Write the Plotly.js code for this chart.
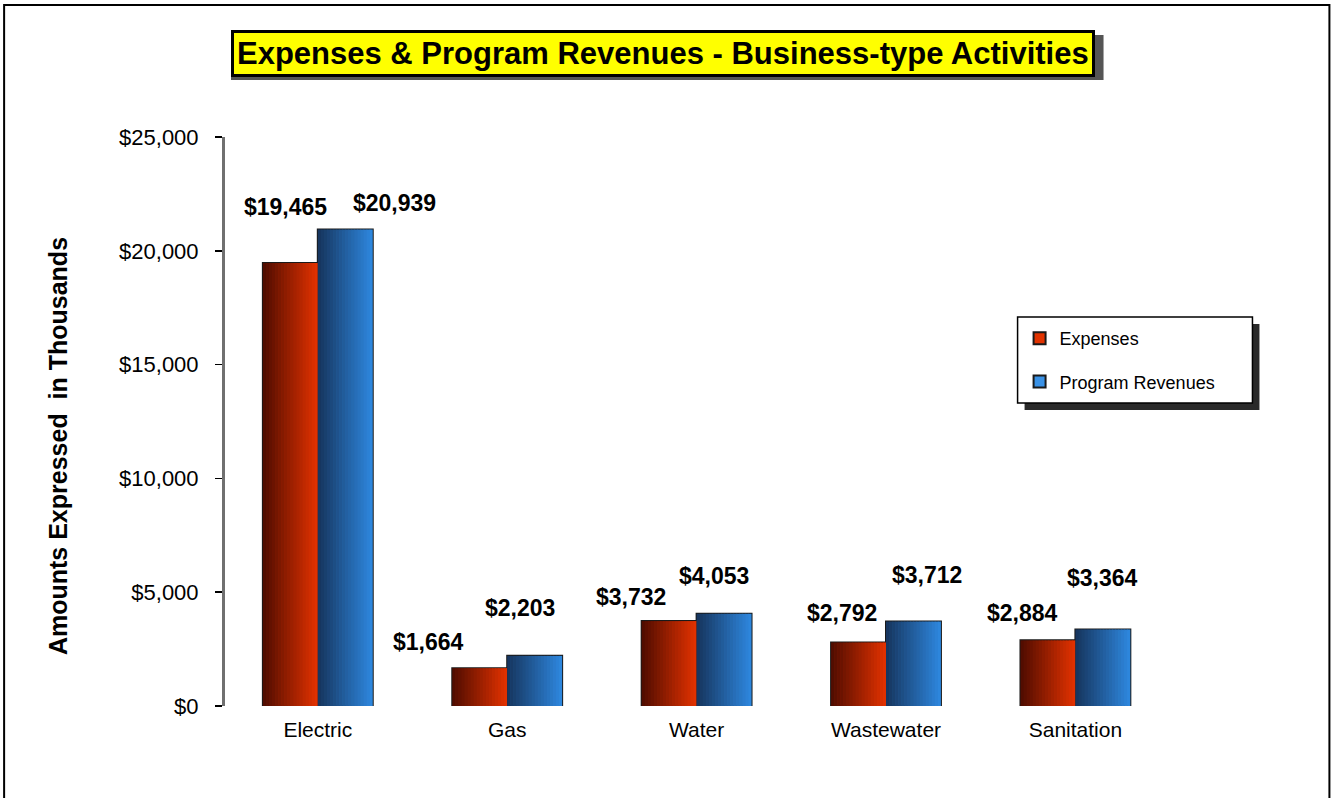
<!DOCTYPE html>
<html>
<head>
<meta charset="utf-8">
<script src="https://cdn.plot.ly/plotly-3.0.1.min.js"></script>
<style>
  html, body { margin: 0; padding: 0; background: #fff; }
  #chart { width: 1331px; height: 798px; }
</style>
</head>
<body>
<div id="chart"></div>
<script>
var categories = ['Electric', 'Gas', 'Water', 'Wastewater', 'Sanitation'];
var expenses = [19465, 1664, 3732, 2792, 2884];
var revenues = [20939, 2203, 4053, 3712, 3364];
var yTicks = [0, 5000, 10000, 15000, 20000, 25000];

// hand-placed label nudges (px), like the original sheet
var expShiftX = [-5, -51, -38, -17, -25];
var expShiftY = [56, 26, 24, 29, 27];
var revShiftX = [49, -15, -10, 14, 0];
var revShiftY = [26, 48, 38, 47, 51];

var W = 1331, H = 798;
var M = { l: 225, r: 158.5, t: 137, b: 92 };
var PW = W - M.l - M.r, PH = H - M.t - M.b;
function px(x) { return (x - M.l) / PW; }
function py(y) { return (H - M.b - y) / PH; }

var BW = 0.29;   // one bar, in category units
var N = 18;      // slices used to fake the horizontal gradient
var FONT = 'Liberation Sans, Arial, sans-serif';

function mix(a, b, t) {
  var c = [0, 1, 2].map(function (i) { return Math.round(a[i] + (b[i] - a[i]) * t); });
  return 'rgb(' + c.join(',') + ')';
}

var series = [
  { name: 'Expenses', y: expenses, off: -BW, dark: [78, 12, 0], light: [228, 50, 0], legend: '#e23300' },
  { name: 'Program Revenues', y: revenues, off: 0, dark: [22, 52, 92], light: [46, 136, 224], legend: '#3a92e6' }
];

var traces = [];
series.forEach(function (s) {
  traces.push({
    type: 'bar', name: s.name, x: categories, y: s.y,
    offset: s.off, width: BW, legendgroup: s.name,
    marker: { color: s.legend, line: { color: '#1a1a1a', width: 2 } },
    hoverinfo: 'skip'
  });
});
series.forEach(function (s) {
  for (var k = 0; k < N; k++) {
    traces.push({
      type: 'bar', x: categories, y: s.y, showlegend: false,
      offset: s.off + k * BW / N,
      width: BW / N + (k < N - 1 ? 0.003 : 0),
      marker: { color: mix(s.dark, s.light, (k + 0.5) / N), line: { width: 0 } },
      hoverinfo: 'skip'
    });
  }
});

var annotations = [];
// title box
annotations.push({
  xref: 'paper', yref: 'paper', x: px(663), y: py(53.5), xanchor: 'center', yanchor: 'middle',
  text: '<b>Expenses &amp; Program Revenues - Business-type Activities</b>', showarrow: false,
  font: { family: FONT, size: 31, color: '#000' },
  bgcolor: '#ffff00', bordercolor: '#000', borderwidth: 3, borderpad: 3
});
// y title
annotations.push({
  xref: 'paper', yref: 'paper', x: px(58), y: py(446), xanchor: 'center', yanchor: 'middle',
  text: '<b>Amounts Expressed  in Thousands</b>', textangle: -90, showarrow: false,
  font: { family: FONT, size: 25, color: '#000' }
});
// value labels
function money(v) { return '$' + v.toLocaleString('en-US'); }
categories.forEach(function (c, i) {
  annotations.push({
    x: i - BW / 2, y: expenses[i], xshift: expShiftX[i], yshift: expShiftY[i],
    text: '<b>' + money(expenses[i]) + '</b>', showarrow: false, yanchor: 'middle',
    font: { family: FONT, size: 23, color: '#000' }
  });
  annotations.push({
    x: i + BW / 2, y: revenues[i], xshift: revShiftX[i], yshift: revShiftY[i],
    text: '<b>' + money(revenues[i]) + '</b>', showarrow: false, yanchor: 'middle',
    font: { family: FONT, size: 23, color: '#000' }
  });
});

var shapes = [
  // outer frame
  { type: 'rect', xref: 'paper', yref: 'paper', x0: px(4), x1: px(1330), y0: py(806), y1: py(5),
    line: { color: '#000', width: 2 }, layer: 'below' },
  // title shadow
  { type: 'rect', xref: 'paper', yref: 'paper', x0: px(231), x1: px(1104), y0: py(80), y1: py(35),
    fillcolor: '#555', line: { width: 0 }, layer: 'below' },
  // legend shadow + box
  { type: 'rect', xref: 'paper', yref: 'paper', x0: px(1025), x1: px(1260), y0: py(410), y1: py(324),
    fillcolor: '#2a2a2a', line: { width: 0 }, layer: 'above' },
  { type: 'rect', xref: 'paper', yref: 'paper', x0: px(1018), x1: px(1253), y0: py(403), y1: py(317),
    fillcolor: '#fff', line: { color: '#000', width: 1.5 }, layer: 'above' }
];

var layout = {
  width: W, height: H,
  margin: M,
  paper_bgcolor: '#fff', plot_bgcolor: '#fff',
  barmode: 'overlay',
  hovermode: false,
  font: { family: FONT, color: '#000' },
  xaxis: {
    type: 'category', range: [-0.49, 4.51],
    showline: false, ticks: '', showgrid: false, zeroline: false,
    ticklabelstandoff: 9,
    tickfont: { family: FONT, size: 21, color: '#000' }
  },
  yaxis: {
    range: [0, 25000], tickvals: yTicks, tickformat: '$,.0f',
    showline: true, linecolor: '#707070', linewidth: 3,
    ticks: 'outside', ticklen: 7, tickwidth: 1.5, tickcolor: '#000',
    ticklabelstandoff: 12,
    showgrid: false, zeroline: false,
    tickfont: { family: FONT, size: 22, color: '#000' }
  },
  legend: {
    x: px(1020), y: py(320), xanchor: 'left', yanchor: 'top',
    bgcolor: 'rgba(0,0,0,0)', borderwidth: 0,
    traceorder: 'grouped', tracegroupgap: 17,
    font: { family: FONT, size: 18, color: '#000' }
  },
  annotations: annotations,
  shapes: shapes
};

Plotly.newPlot('chart', traces, layout, { displayModeBar: false, staticPlot: true });
</script>
</body>
</html>
